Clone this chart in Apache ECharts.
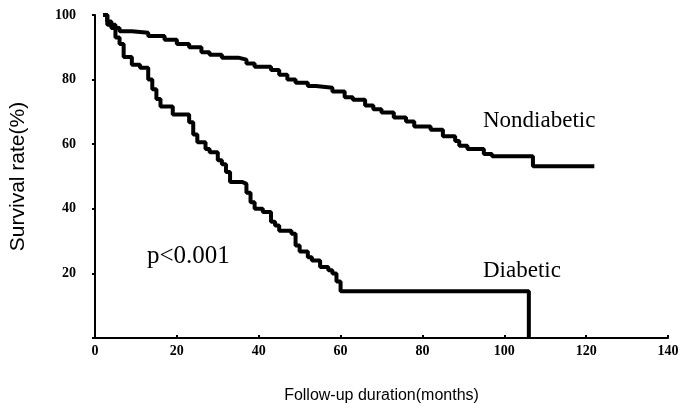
<!DOCTYPE html>
<html>
<head>
<meta charset="utf-8">
<script src="https://cdn.jsdelivr.net/npm/echarts@6/dist/echarts.min.js"></script>
<style>
  html, body { margin: 0; padding: 0; background: #fff; }
  #chart { width: 683px; height: 410px; }
</style>
</head>
<body>
<div id="chart"></div>
<script>
// Kaplan-Meier survival, follow-up in months
const xTicks = [0, 20, 40, 60, 80, 100, 120, 140];
const yTicks = [20, 40, 60, 80, 100];

const nondiabeticMonths = [2, 3, 4, 6, 9, 13, 17, 20, 23, 26, 28, 31, 35, 37, 39, 43, 45, 47, 49, 52, 54, 58,
  61, 63, 66, 68, 70, 73, 76, 78, 82, 85, 88, 89, 91, 95, 97, 107, 122];
const nondiabeticSurvival = [100, 98, 96, 95, 94.5, 93.5, 92.3, 91, 90, 88.5, 87.7, 86.8, 86.2, 85, 84, 83, 81.5, 80, 79, 78, 77.5, 76.3,
  74.5, 73.8, 72, 70.8, 69.8, 68.3, 67, 65.5, 64.5, 62.5, 61, 59.5, 58.5, 57, 56.3, 53.2, 53.2];

const diabeticMonths = [2, 3, 5, 6, 7, 9, 11, 13, 14, 15, 16, 19, 23, 24, 25, 27, 28, 30, 31, 32, 33, 36, 37, 38, 39,
  41, 43, 44, 45, 48, 49, 50, 52, 53, 55, 57, 58, 59, 60, 106];
const diabeticSurvival = [100, 97, 93, 91, 87, 84.6, 83.7, 80, 77, 74, 71.7, 69.2, 66.8, 63, 60.6, 58.5, 57.5, 55, 53.8, 51.4, 48.3, 47.7, 45, 42, 40,
  39, 36, 34.8, 33.2, 32.3, 28.6, 26.8, 25, 24, 22, 21, 20, 17.5, 14.5, 0];

const pair = (xs, ys) => xs.map((x, i) => [x, ys[i]]);

const chart = echarts.init(document.getElementById('chart'));

const tickFont = {
  color: '#000',
  fontFamily: 'Liberation Serif',
  fontWeight: 'bold',
  fontSize: 14,
};

chart.setOption({
  animation: false,
  backgroundColor: '#fff',
  grid: { left: 93, right: 15, top: 15, bottom: 72 },
  xAxis: {
    type: 'value',
    min: xTicks[0],
    max: xTicks[xTicks.length - 1],
    interval: 20,
    splitLine: { show: false },
    axisLine: { lineStyle: { color: '#000', width: 2 } },
    axisTick: { inside: true, length: 3, lineStyle: { color: '#000', width: 2 } },
    axisLabel: Object.assign({ margin: 6 }, tickFont),
    name: 'Follow-up duration(months)',
    nameLocation: 'middle',
    nameGap: 50,
    nameTextStyle: { color: '#000', fontFamily: 'Liberation Sans', fontSize: 16 },
  },
  yAxis: {
    type: 'value',
    min: 0,
    max: yTicks[yTicks.length - 1],
    interval: 20,
    splitLine: { show: false },
    axisLine: { lineStyle: { color: '#000', width: 2 } },
    axisTick: { length: 3, lineStyle: { color: '#000', width: 2 } },
    axisLabel: Object.assign({
      margin: 19,
      formatter: v => (yTicks.indexOf(v) >= 0 ? String(v) : ''),
    }, tickFont),
    name: 'Survival rate(%)',
    nameLocation: 'middle',
    nameGap: 66,
    nameTextStyle: { color: '#000', fontFamily: 'Liberation Sans', fontSize: 21 },
  },
  series: [
    {
      name: 'Nondiabetic',
      type: 'line',
      step: 'end',
      symbol: 'none',
      data: pair(nondiabeticMonths, nondiabeticSurvival),
      lineStyle: { color: '#000', width: 4 },
    },
    {
      name: 'Diabetic',
      type: 'line',
      step: 'end',
      symbol: 'none',
      data: pair(diabeticMonths, diabeticSurvival),
      lineStyle: { color: '#000', width: 4 },
    },
  ],
  graphic: [
    {
      type: 'text', left: 483, top: 109,
      style: { text: 'Nondiabetic', fill: '#000', font: '23px "Liberation Serif"' },
    },
    {
      type: 'text', left: 483, top: 259,
      style: { text: 'Diabetic', fill: '#000', font: '23px "Liberation Serif"' },
    },
    {
      type: 'text', left: 147, top: 244,
      style: { text: 'p<0.001', fill: '#000', font: '25px "Liberation Serif"' },
    },
  ],
});
</script>
</body>
</html>
